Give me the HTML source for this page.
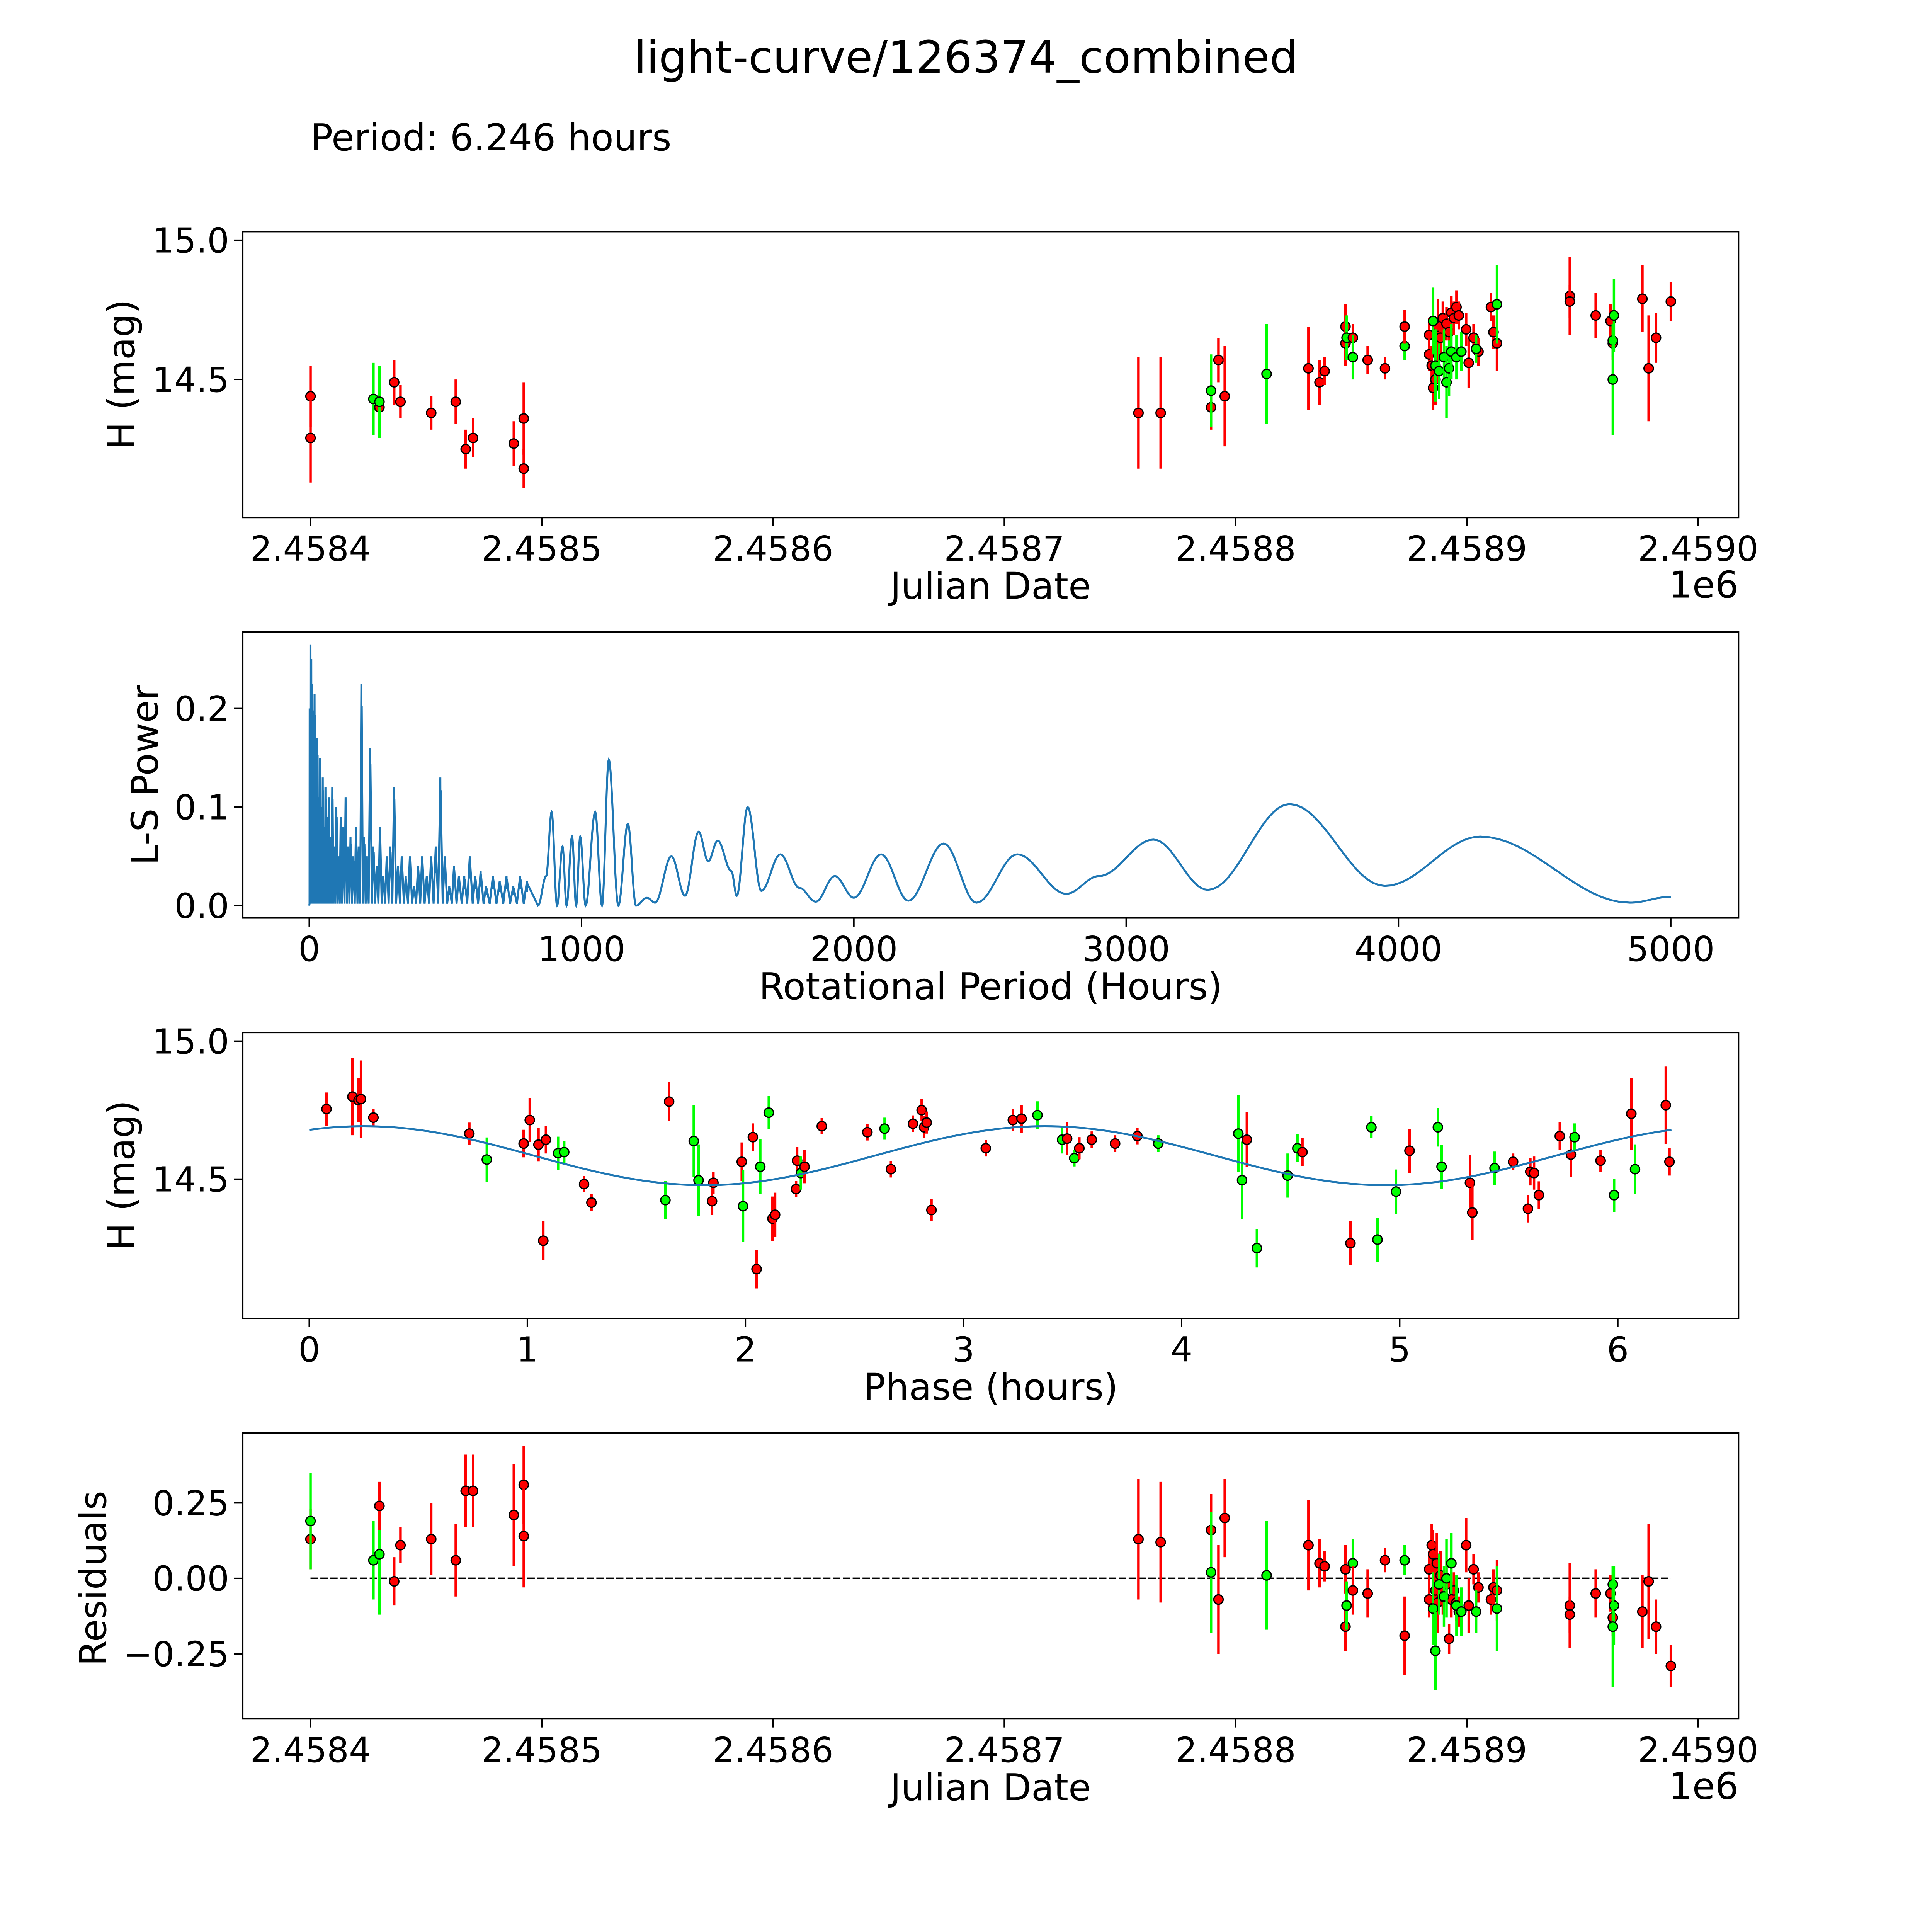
<!DOCTYPE html>
<html><head><meta charset="utf-8">
<style>
html,body{margin:0;padding:0;background:#fff;overflow:hidden;width:100%;height:100%;}
svg{display:block;width:100vw;height:100vh;}
text{font-family:"DejaVu Sans","Liberation Sans",sans-serif;fill:#000;}
</style></head>
<body>
<svg id="fig" viewBox="0 0 1568 1568" preserveAspectRatio="xMidYMid meet" xmlns="http://www.w3.org/2000/svg">
<rect width="1568" height="1568" fill="#fff"/>
<text x="784" y="59" font-size="36" text-anchor="middle">light-curve/126374_combined</text>
<text x="252" y="122" font-size="30">Period: 6.246 hours</text>
<g id="g1"></g>
<g id="g2"></g>
<g id="g3"></g>
<g id="g4"></g>
</svg>
<script>
// ---- Panel 1: light curve (JD offset from 2458400) ----
const lcJd = [0,0,27.2,29.8,29.8,36.2,38.9,52.2,62.8,67.1,70.3,87.9,92.2,92.2,358,367.6,389.4,389.4,392.6,395.3,413.4,431.5,436.3,438.5,447.5,447.5,448,450.7,450.7,457.1,464.6,473.1,473.1,483.7,483.7,484.8,485.4,486.4,487,487.5,488.6,489.6,491.2,492.3,493.3,494.4,495.5,496.5,485.4,486.4,488,490.1,491.2,492.3,493.3,495.5,497.6,499.7,500.8,502.9,505,510.4,511.5,513,504,513,544.5,544.5,555.7,562.1,563.1,575.9,578.6,581.8,588.2,563.1,563.6,563.1];
const lcMag = [14.44,14.29,14.43,14.40,14.42,14.49,14.42,14.38,14.42,14.25,14.29,14.27,14.36,14.18,14.38,14.38,14.40,14.46,14.57,14.44,14.52,14.54,14.49,14.53,14.69,14.63,14.65,14.65,14.58,14.57,14.54,14.62,14.69,14.66,14.59,14.55,14.47,14.50,14.61,14.69,14.65,14.72,14.70,14.67,14.74,14.72,14.76,14.73,14.71,14.55,14.53,14.58,14.49,14.54,14.60,14.58,14.60,14.68,14.56,14.65,14.60,14.76,14.67,14.63,14.61,14.77,14.80,14.78,14.73,14.71,14.63,14.79,14.54,14.65,14.78,14.64,14.73,14.50];
const lcErr = [.11,.16,.13,.06,.13,.08,.06,.06,.08,.07,.07,.08,.13,.07,.20,.20,.08,.13,.08,.18,.18,.15,.08,.05,.08,.08,.08,.05,.08,.05,.04,.05,.06,.06,.06,.07,.08,.09,.10,.10,.08,.06,.06,.05,.06,.06,.06,.05,.12,.13,.10,.10,.13,.10,.10,.08,.07,.06,.09,.05,.05,.05,.06,.10,.05,.14,.14,.06,.08,.06,.06,.12,.19,.09,.07,.06,.13,.20];
const lcColor = "RRGRGRRRRRRRRRRRRGRRGRRRRRGRGRRGRRRRRRRRRRRRRRRRGGGGGGGGGRRRRRRRGGRRRRRRRRRGGG";

// ---- Panel 2: periodogram ----
const spikePeriods = [2,5,8,12,16,20,25,30,35,40,45,50,55,60,66,72,78,85,92,100,108,116,125,134,143,152,162,172,182,192,202,212,224,236,248,260,272,285,298,312,326,340,355,370,385,400,415,432,448,465,482,498,515,532,550,570,590,610,630,650,675,700,725,750,775,800];
const spikePowers = [.20,.265,.25,.22,.19,.215,.14,.17,.11,.15,.10,.13,.08,.12,.09,.11,.07,.12,.06,.10,.05,.09,.08,.11,.06,.07,.05,.08,.06,.225,.07,.05,.16,.06,.04,.08,.03,.05,.06,.12,.04,.05,.03,.05,.02,.04,.05,.03,.05,.06,.13,.05,.02,.04,.03,.03,.05,.03,.035,.02,.03,.025,.03,.02,.03,.025];
const smoothPeriods = [840,870,890,910,930,945,965,980,995,1015,1050,1075,1100,1135,1170,1200,1240,1270,1330,1380,1430,1465,1500,1550,1570,1610,1660,1730,1800,1860,1930,2000,2100,2200,2330,2450,2600,2780,2900,3100,3300,3600,3950,4300,4850,5000];
const smoothPowers = [0,.03,.095,0,.06,0,.07,0,.07,0,.095,0,.148,0,.083,0,.008,.003,.05,.01,.075,.045,.066,.035,.01,.1,.015,.052,.018,.004,.03,.008,.052,.005,.063,.003,.052,.012,.03,.067,.016,.103,.02,.07,.003,.009];

// ---- Panel 3: phase folded ----
const phase = [.079,.198,.226,.237,.294,.734,.814,.983,1.011,1.051,1.073,1.085,1.141,1.169,1.260,1.294,1.633,1.650,1.763,1.785,1.847,1.853,1.983,1.989,2.034,2.051,2.068,2.107,2.124,2.136,2.232,2.237,2.254,2.271,2.350,2.559,2.638,2.667,2.768,2.808,2.819,2.831,2.853,3.102,3.226,3.266,3.339,3.452,3.475,3.508,3.531,3.588,3.695,3.797,3.893,4.260,4.277,4.299,4.345,4.486,4.531,4.554,4.774,4.870,4.898,4.983,5.045,5.175,5.192,5.322,5.333,5.435,5.520,5.588,5.599,5.616,5.638,5.734,5.785,5.802,5.921,5.983,6.062,6.079,6.220,6.237];
const phaseMag = [14.754,14.799,14.786,14.790,14.723,14.665,14.571,14.629,14.714,14.625,14.277,14.643,14.594,14.598,14.482,14.415,14.424,14.781,14.638,14.496,14.420,14.487,14.563,14.402,14.652,14.174,14.545,14.741,14.357,14.371,14.464,14.567,14.522,14.545,14.692,14.670,14.683,14.536,14.701,14.750,14.688,14.705,14.388,14.612,14.714,14.719,14.732,14.643,14.647,14.576,14.612,14.643,14.629,14.656,14.629,14.665,14.496,14.643,14.250,14.513,14.612,14.598,14.268,14.688,14.281,14.455,14.603,14.688,14.545,14.487,14.379,14.540,14.563,14.393,14.527,14.522,14.442,14.656,14.589,14.652,14.567,14.442,14.737,14.536,14.768,14.563];
const phaseErr = [.06,.14,.08,.14,.03,.04,.08,.05,.08,.06,.07,.05,.06,.04,.03,.03,.07,.07,.13,.13,.05,.04,.07,.13,.05,.07,.10,.06,.08,.08,.03,.05,.06,.06,.03,.03,.04,.03,.03,.04,.04,.04,.04,.03,.04,.05,.05,.05,.06,.03,.04,.03,.03,.03,.03,.14,.14,.10,.07,.08,.05,.05,.08,.04,.08,.08,.08,.07,.08,.10,.10,.06,.03,.05,.05,.06,.05,.05,.08,.05,.04,.06,.13,.09,.14,.05];
const phaseColor = "RRRRRRGRRRRRGGRRGRGGRRRGRRGGRRRRGRRRGRRRRRRRRRGGRGRRRRGGGRGGGRRGGGRGGRRGRRRRRRRGRGRGR";
const modelMean = [14.585], modelAmp = [0.107], modelPeak = [0.25], modelPeriod = [3.123];

// ---- Panel 4: residuals ----
const resJd = [0,0,27.2,29.8,29.8,36.2,38.9,52.2,62.8,67.1,70.3,87.9,92.2,92.2,358,367.6,389.4,389.4,392.6,395.3,413.4,431.5,436.3,438.5,447.5,447.5,448,450.7,450.7,457.1,464.6,473.1,473.1,483.7,483.7,484.8,485.4,486.4,487,487.5,488.6,489.6,491.2,492.3,493.3,494.4,495.5,496.5,499.7,500.8,502.9,505,510.4,511.5,513,485.4,486.4,488,490.1,491.2,493.3,495.5,497.6,504,513,544.5,544.5,555.7,562.1,563.1,575.9,578.6,581.8,588.2,563.1,563.6,563.1];
const resVal = [.13,.19,.06,.08,.24,-.01,.11,.13,.06,.29,.29,.21,.31,.14,.13,.12,.16,.02,-.07,.20,.01,.11,.05,.04,.03,-.16,-.09,.05,-.04,-.05,.06,.06,-.19,.03,-.07,.11,.08,-.04,.05,-.08,.01,-.06,-.02,-.20,-.07,-.04,-.08,-.11,.11,-.09,.03,-.03,-.07,-.03,-.04,-.10,-.24,-.02,-.06,0,.05,-.09,-.11,-.11,-.10,-.09,-.12,-.05,-.05,-.13,-.11,-.01,-.16,-.29,-.02,-.09,-.16];
const resErr = [.10,.16,.13,.20,.08,.08,.06,.12,.12,.12,.12,.17,.13,.17,.20,.20,.12,.20,.18,.13,.18,.15,.08,.05,.08,.08,.08,.08,.08,.08,.04,.05,.13,.06,.06,.07,.08,.09,.10,.10,.08,.06,.06,.05,.06,.06,.06,.05,.09,.09,.05,.05,.05,.06,.10,.12,.13,.10,.10,.13,.10,.10,.08,.07,.14,.14,.06,.08,.06,.06,.12,.19,.09,.07,.06,.13,.20];
const resColor = "RGGGRRRRRRRRRRRRRGRRGRRRRRGGRRRGRRRRRRRRRRRRRRRRRRRRRRRGGGGGGGGGGRRRRRRRRRGGG";

const jdTicks = [0,100,200,300,400,500,600];
const jdTickLabels = ["2.4584","2.4585","2.4586","2.4587","2.4588","2.4589","2.4590"];

const NS = "http://www.w3.org/2000/svg";
function mk(parent, tag, attrs){const e=document.createElementNS(NS,tag);for(const k in attrs)e.setAttribute(k,attrs[k]);parent.appendChild(e);return e;}
function txt(parent, s, x, y, size, anchor, rot){const t=mk(parent,'text',{x:x,y:y,'font-size':size,'text-anchor':anchor||'middle'});if(rot)t.setAttribute('transform','rotate(-90 '+x+' '+y+')');t.textContent=s;return t;}
const RED="#ff0000", GREEN="#00ff00";

function frame(g, L, T, R, B){
  const r=mk(g,'rect',{x:L,y:T,width:R-L,height:B-T,fill:'none',stroke:'#000','stroke-width':1.2});
  
  
}
function xTick(g, x, B, label){
  const l=mk(g,'line',{x1:x,x2:x,y1:B,y2:B+7,stroke:'#000','stroke-width':1.2});
  
  
  const t=txt(g,label,x,B+35,28);
  
  
}
function yTick(g, y, L, label){
  const l=mk(g,'line',{x1:L-7,x2:L,y1:y,y2:y,stroke:'#000','stroke-width':1.2});
  
  
  const t=txt(g,label,L-11,y+10,28,'end');
  
  
}
function point(g, x, y, yLo, yHi, col){
  const c = col==='G'?GREEN:RED;
  const l=mk(g,'line',{x1:x,x2:x,y1:yLo,y2:yHi,stroke:c,'stroke-width':2});
  
  
  const p=mk(g,'circle',{cx:x,cy:y,r:3.8,fill:c,stroke:'#000','stroke-width':1});
  
  
}

// ---------- Panel 1 ----------
(function(){
  const g=document.getElementById('g1');
  const L=197,T=188,R=1411,B=420;
  const X=d=>252+d*1.877, Y=m=>308-(m-14.5)*226;
  for(let i=0;i<lcJd.length;i++) point(g,X(lcJd[i]),Y(lcMag[i]),Y(lcMag[i]-lcErr[i]),Y(lcMag[i]+lcErr[i]),lcColor[i]);
  frame(g,L,T,R,B);
  jdTicks.forEach((d,i)=>xTick(g,X(d),B,jdTickLabels[i]));
  [[14.5,"14.5"],[15.0,"15.0"]].forEach(v=>yTick(g,Y(v[0]),L,v[1]));
  const xl=txt(g,"Julian Date",804,486,30);
  
  
  const oe=txt(g,"1e6",1411,485,30,'end');
  
  
  const yl=txt(g,"H (mag)",109,304,30,'middle',true);
  
  
})();

// ---------- Panel 2 ----------
(function(){
  const g=document.getElementById('g2');
  const L=197,T=513,R=1411,B=745;
  const X=p=>251+p*0.221, Y=v=>735-v*800;
  let pts=[[0,0]];
  for(let i=0;i<spikePeriods.length;i++){
    const p=spikePeriods[i], h=spikePowers[i];
    const prev = i>0?spikePeriods[i-1]:0;
    const mid=(prev+p)/2;
    pts.push([mid,0.002],[p-0.6,h],[p,h*0.55],[p+0.6,h*0.9]);
  }
  pts.push([smoothPeriods[0],smoothPowers[0]]);
  for(let i=0;i<smoothPeriods.length-1;i++){
    const p0=smoothPeriods[i],p1=smoothPeriods[i+1],v0=smoothPowers[i],v1=smoothPowers[i+1];
    const n=16;
    for(let k=1;k<=n;k++){const t=k/n, s=(1-Math.cos(Math.PI*t))/2; pts.push([p0+(p1-p0)*t, v0+(v1-v0)*s]);}
  }
  const pl=mk(g,'polyline',{points:pts.map(p=>X(p[0]).toFixed(2)+','+Y(p[1]).toFixed(2)).join(' '),fill:'none',stroke:'#1f77b4','stroke-width':1.6});
  
  
  frame(g,L,T,R,B);
  [0,1000,2000,3000,4000,5000].forEach(p=>xTick(g,X(p),B,String(p)));
  [[0,"0.0"],[0.1,"0.1"],[0.2,"0.2"]].forEach(v=>yTick(g,Y(v[0]),L,v[1]));
  const xl=txt(g,"Rotational Period (Hours)",804,811,30);
  
  
  const yl=txt(g,"L-S Power",128,629,30,'middle',true);
  
  
})();

// ---------- Panel 3 ----------
(function(){
  const g=document.getElementById('g3');
  const L=197,T=838,R=1411,B=1070;
  const X=p=>251+p*177, Y=m=>957-(m-14.5)*224;
  for(let i=0;i<phase.length;i++) point(g,X(phase[i]),Y(phaseMag[i]),Y(phaseMag[i]-phaseErr[i]),Y(phaseMag[i]+phaseErr[i]),phaseColor[i]);
  let pts=[];
  for(let k=0;k<=200;k++){const p=6.246*k/200; const m=modelMean[0]+modelAmp[0]*Math.cos(2*Math.PI*(p-modelPeak[0])/modelPeriod[0]); pts.push(X(p).toFixed(2)+','+Y(m).toFixed(2));}
  const pl=mk(g,'polyline',{points:pts.join(' '),fill:'none',stroke:'#1f77b4','stroke-width':1.6});
  
  
  frame(g,L,T,R,B);
  [0,1,2,3,4,5,6].forEach(p=>xTick(g,X(p),B,String(p)));
  [[14.5,"14.5"],[15.0,"15.0"]].forEach(v=>yTick(g,Y(v[0]),L,v[1]));
  const xl=txt(g,"Phase (hours)",804,1136,30);
  
  
  const yl=txt(g,"H (mag)",109,954,30,'middle',true);
  
  
})();

// ---------- Panel 4 ----------
(function(){
  const g=document.getElementById('g4');
  const L=197,T=1163,R=1411,B=1395;
  const X=d=>252+d*1.877, Y=v=>1281-v*245;
  const zl=mk(g,'line',{x1:X(0),x2:X(588.2),y1:Y(0),y2:Y(0),stroke:'#000','stroke-width':1.4,'stroke-dasharray':'6,2'});
  
  
  for(let i=0;i<resJd.length;i++) point(g,X(resJd[i]),Y(resVal[i]),Y(resVal[i]-resErr[i]),Y(resVal[i]+resErr[i]),resColor[i]);
  frame(g,L,T,R,B);
  jdTicks.forEach((d,i)=>xTick(g,X(d),B,jdTickLabels[i]));
  [[0.25,"0.25"],[0,"0.00"],[-0.25,"\u22120.25"]].forEach(v=>yTick(g,Y(v[0]),L,v[1]));
  const xl=txt(g,"Julian Date",804,1461,30);
  
  
  const oe=txt(g,"1e6",1411,1460,30,'end');
  
  
  const yl=txt(g,"Residuals",86,1281,30,'middle',true);
  
  
})();
</script>
</body></html>
